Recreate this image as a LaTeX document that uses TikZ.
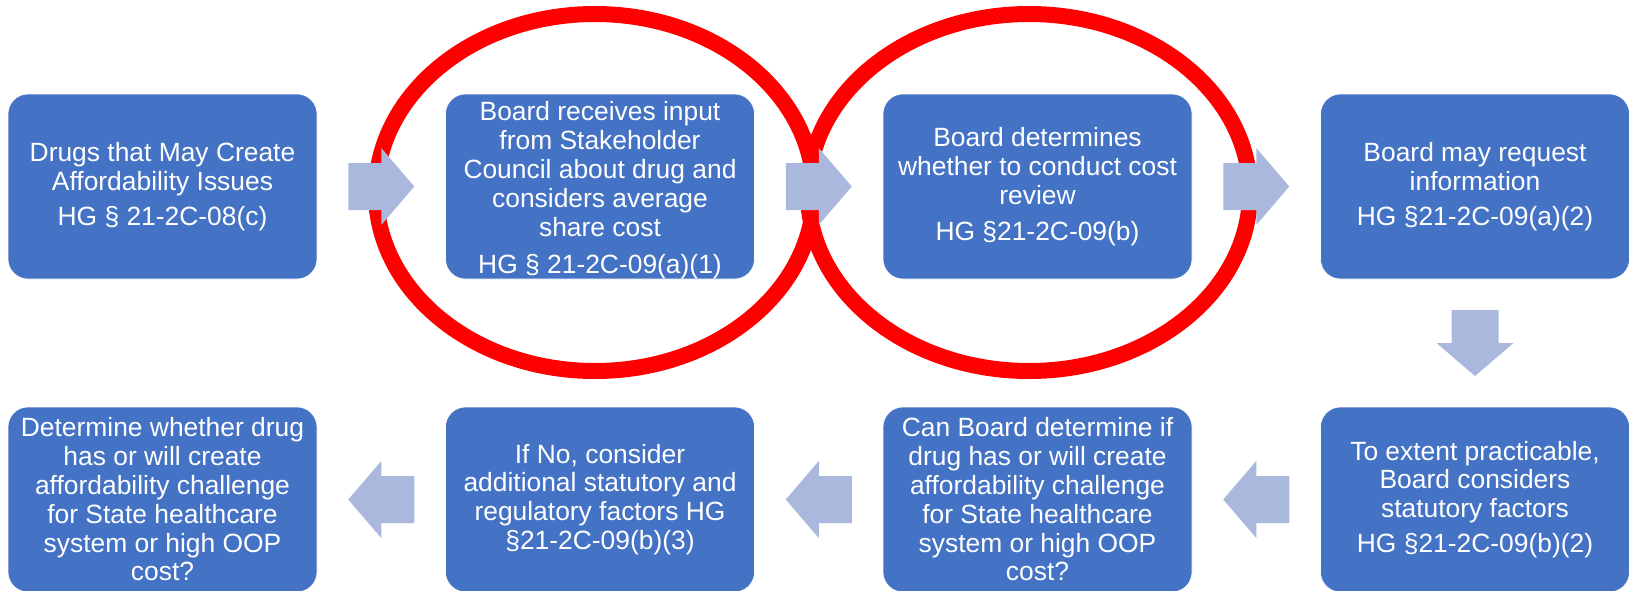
\documentclass[tikz,border=0pt]{standalone}
\usepackage{fontspec}
\setmainfont{Liberation Sans}
\usetikzlibrary{calc}
\definecolor{boxblue}{HTML}{4472C4}
\definecolor{arrowblue}{HTML}{AAB8DE}
\definecolor{ringred}{HTML}{FF0000}
\tikzset{
  boxtext/.style={inner sep=0pt, text=white, align=center, font=\fontsize{26.4}{28.8}\selectfont},
  stepbox/.style={boxtext, rectangle, rounded corners=20pt, fill=boxblue, draw=white, line width=0.6pt,
    minimum width=309pt, minimum height=185pt, inner sep=2pt},
  ring/.style={draw=ringred, line width=16pt},
  blockarrow/.pic={\fill[arrowblue] (-33pt,-23.5pt) -- (0pt,-23.5pt) -- (0pt,-38.5pt) -- (33pt,0pt)
     -- (0pt,38.5pt) -- (0pt,23.5pt) -- (-33pt,23.5pt) -- cycle;}
}
\begin{document}
\begin{tikzpicture}[x=1pt,y=1pt]
\useasboundingbox (0,0) rectangle (1629,-590);
% red rings
\draw[ring] (595,-192.5) ellipse [x radius=219pt, y radius=178.5pt];
\draw[ring] (1029,-192.5) ellipse [x radius=221pt, y radius=178.5pt];
% top row
\node[stepbox] (t1) at (162.5,-186.5) {Drugs that May Create\\Affordability Issues\\[6pt]HG § 21-2C-08(c)};
\node[stepbox] (t2) at (600,-186.5) {};
\node[boxtext] (t2text) at ([yshift=-4pt]t2.center) {Board receives input\\from Stakeholder\\Council about drug and\\considers average\\share cost\\[9pt]HG § 21-2C-09(a)(1)};
\node[stepbox] (t3) at (1037.5,-186.5) {Board determines\\whether to conduct cost\\review\\[7pt]HG §21-2C-09(b)};
\node[stepbox] (t4) at (1475,-186.5) {Board may request\\information\\[6pt]HG §21-2C-09(a)(2)};
% bottom row
\node[stepbox] (s1) at (162.5,-499.5) {Determine whether drug\\has or will create\\affordability challenge\\for State healthcare\\system or high OOP\\cost?};
\node[stepbox] (s2) at (600,-499.5) {If No, consider\\additional statutory and\\regulatory factors HG\\§21-2C-09(b)(3)};
\node[stepbox] (s3) at (1037.5,-499.5) {Can Board determine if\\drug has or will create\\affordability challenge\\for State healthcare\\system or high OOP\\cost?};
\node[stepbox] (s4) at (1475,-499.5) {To extent practicable,\\Board considers\\statutory factors\\[6pt]HG §21-2C-09(b)(2)};
% block arrows
\pic at ($(t1.east)!0.5!(t2.west)$) {blockarrow};
\pic at ($(t2.east)!0.5!(t3.west)$) {blockarrow};
\pic at ($(t3.east)!0.5!(t4.west)$) {blockarrow};
\pic[rotate=-90] at ($(t4.south)!0.5!(s4.north)$) {blockarrow};
\pic[rotate=180] at ($(s4.west)!0.5!(s3.east)$) {blockarrow};
\pic[rotate=180] at ($(s3.west)!0.5!(s2.east)$) {blockarrow};
\pic[rotate=180] at ($(s2.west)!0.5!(s1.east)$) {blockarrow};
\end{tikzpicture}
\end{document}
